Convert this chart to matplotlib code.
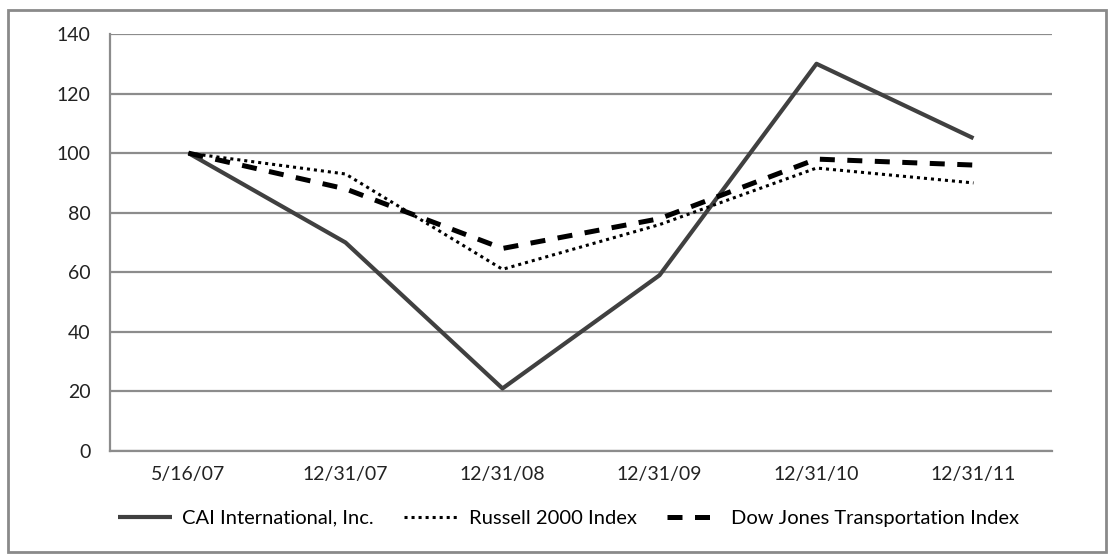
import matplotlib
matplotlib.use("Agg")
import matplotlib.pyplot as plt
from matplotlib.patches import Rectangle

dates = ["5/16/07", "12/31/07", "12/31/08", "12/31/09", "12/31/10", "12/31/11"]
cai = [100, 70, 21, 59, 130, 105]
russell = [100, 93, 61, 76, 95, 90]
dow_jones = [100, 88, 68, 78, 98, 96]
y_ticks = [0, 20, 40, 60, 80, 100, 120, 140]

plt.rcParams["font.family"] = ["Lato", "DejaVu Sans"]

W, H = 1110, 556
fig = plt.figure(figsize=(W / 100, H / 100), dpi=100)
ax = fig.add_axes([110 / W, 1 - 451 / H, 942 / W, 417 / H])

# outer frame around the whole chart
fig.patches.append(Rectangle((8 / W, 4 / H), 1098 / W, 542 / H,
                             transform=fig.transFigure, fill=False,
                             edgecolor="#8a8a8a", linewidth=2))

x = list(range(len(dates)))
ax.plot(x, cai, color="#404040", linewidth=3, solid_capstyle="butt",
        label="CAI International, Inc.")
ax.plot(x, russell, color="black", linewidth=2.2, linestyle=(0, (1, 1.3)),
        label="Russell 2000 Index")
ax.plot(x, dow_jones, color="black", linewidth=3.6, linestyle=(0, (3, 2.5)),
        label="Dow Jones Transportation Index")

ax.set_xlim(-0.5, len(dates) - 0.5)
ax.set_ylim(0, 140)
ax.set_yticks(y_ticks)
ax.set_xticks(x)
ax.set_xticklabels(dates)
ax.yaxis.grid(True, color="#8c8c8c", linewidth=1.6)
ax.set_axisbelow(True)
for side in ["top", "right"]:
    ax.spines[side].set_visible(False)
for side in ["left", "bottom"]:
    ax.spines[side].set_color("#8c8c8c")
    ax.spines[side].set_linewidth(1.6)
ax.tick_params(axis="both", length=0, labelsize=14, colors="#222222")
ax.tick_params(axis="y", pad=14)
ax.tick_params(axis="x", pad=11)

fig.legend(*ax.get_legend_handles_labels(), loc="center left",
           bbox_to_anchor=(118 / W, 1 - 518 / H), ncol=3, frameon=False,
           fontsize=14.5, handlelength=2.7, handletextpad=0.5,
           columnspacing=1.5, borderpad=0, borderaxespad=0)

fig.savefig("out.png", dpi=100)
